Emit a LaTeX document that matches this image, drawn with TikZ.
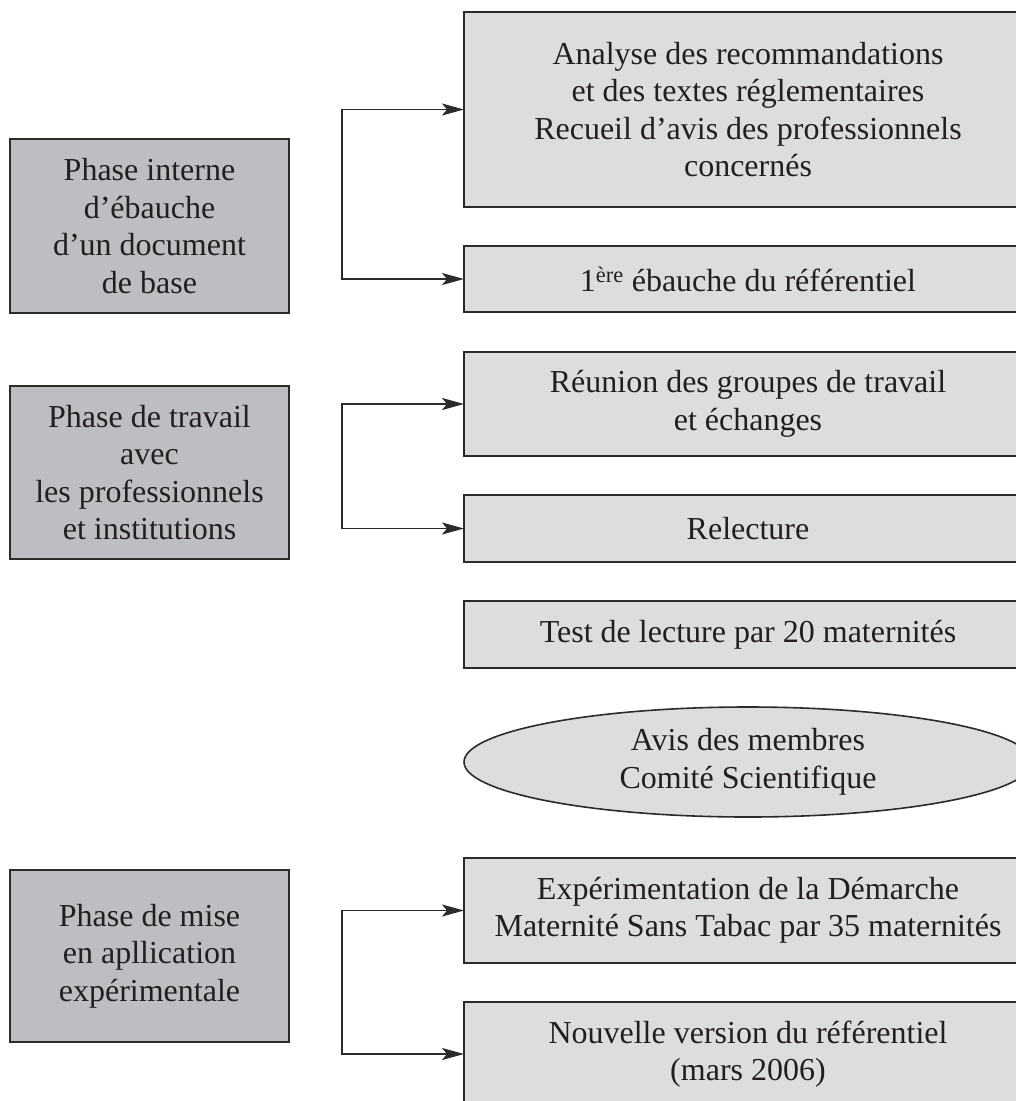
\documentclass[tikz,border=0pt]{standalone}
\usepackage{fontspec}
\setmainfont{Liberation Serif}
\usetikzlibrary{arrows.meta,shapes.geometric}
\definecolor{phasefill}{HTML}{BDBEC2}
\definecolor{stepfill}{HTML}{DCDDDF}
\definecolor{edgecol}{HTML}{2B2B2B}
\definecolor{ink}{HTML}{231F20}
\begin{document}
\begin{tikzpicture}[x=1pt,y=-1pt,
  txt/.style={font=\fontsize{32}{37.5}\selectfont, text=ink, align=center},
  phasebox/.style={txt, draw=edgecol, line width=2pt, fill=phasefill, minimum width=279pt, inner sep=0pt, outer sep=0pt, anchor=north west},
  stepbox/.style={txt, draw=edgecol, line width=2pt, fill=stepfill, minimum width=568pt, inner sep=0pt, outer sep=0pt, anchor=north west},
  oval/.style={txt, ellipse, draw=edgecol, line width=1.6pt, fill=stepfill, minimum width=568pt, minimum height=110pt, inner sep=0pt, outer sep=0pt},
  link/.style={draw=edgecol, line width=1.8pt, {Stealth[length=22pt,width=12pt,inset=5pt]}-{Stealth[length=22pt,width=12pt,inset=5pt]}},
]
\useasboundingbox (0,0) rectangle (1016,1101);
\fill[white] (0,0) rectangle (1016,1101);

% left phase boxes
\node[phasebox, minimum height=174pt] (p1) at (10,139) {Phase interne\\d’ébauche\\d’un document\\de base};
\node[phasebox, minimum height=173pt] (p2) at (10,386) {Phase de travail\\avec\\les professionnels\\et institutions};
\node[phasebox, minimum height=172pt] (p3) at (10,870) {Phase de mise\\en apllication\\expérimentale};

% right step boxes
\node[stepbox, minimum height=195pt] (a) at (464,12) {Analyse des recommandations\\et des textes réglementaires\\Recueil d’avis des professionnels\\concernés};
\node[stepbox, minimum height=66pt] (b) at (464,246) {1\textsuperscript{ère} ébauche du référentiel};
\node[stepbox, minimum height=104pt] (c) at (464,352) {Réunion des groupes de travail\\et échanges};
\node[stepbox, minimum height=67pt] (d) at (464,495) {Relecture};
\node[stepbox, minimum height=67pt] (e) at (464,601) {Test de lecture par 20 maternités};
\node[oval] (o) at (748,762) {Avis des membres\\Comité Scientifique};
\node[stepbox, minimum height=105pt] (f) at (464,858) {Expérimentation de la Démarche\\Maternité Sans Tabac par 35 maternités};
\node[stepbox, minimum height=104pt] (g) at (464,1002) {Nouvelle version du référentiel\\(mars 2006)};

% bracket connectors
\draw[link] (a.west) -- ++(-122,0) |- (b.west);
\draw[link] (c.west) -- ++(-122,0) |- (d.west);
\draw[link] (f.west) -- ++(-122,0) |- (g.west);
\end{tikzpicture}
\end{document}
